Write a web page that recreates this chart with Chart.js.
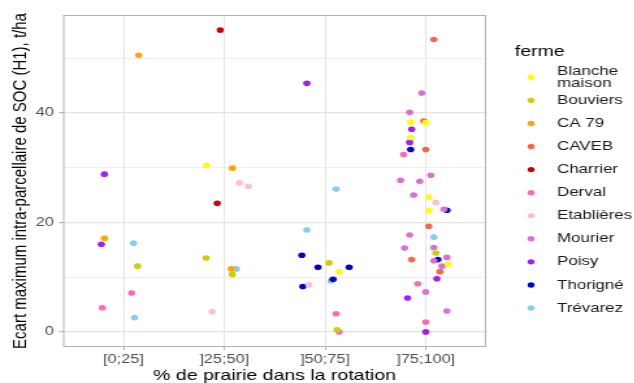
<!DOCTYPE html>
<html>
<head>
<meta charset="utf-8">
<script src="https://cdn.jsdelivr.net/npm/chart.js@4.4.1/dist/chart.umd.min.js"></script>
<style>
    html, body { margin: 0; padding: 0; background: #fff; overflow: hidden; }
    /* the reference picture is stretched sideways, so the canvas is too */
    #wrap { width: 488px; height: 383px; transform: scaleX(1.3); transform-origin: 0 0; }
</style>
</head>
<body>
<div id="wrap"><canvas id="soc_chart" width="488" height="383"></canvas></div>
<script>
const categories = ["[0;25]", "]25;50]", "]50;75]", "]75;100]"];
const yTicks = [0, 10, 20, 30, 40, 50];
const yLabelled = [0, 20, 40];

const farms = ["Blanche maison", "Bouviers", "CA 79", "CAVEB", "Charrier", "Derval",
    "Etablières", "Mourier", "Poisy", "Thorigné", "Trévarez"];
const farmColors = ["#FFFF00", "#CDCD00", "#FFA500", "#FF6347", "#CD0000", "#FF69B4",
    "#FFC0CB", "#DA70D6", "#A020F0", "#0000CD", "#87CEEB"];

// [x, y] : x = class of the rotation (1..4) plus jitter, y = t/ha
const blancheMaison = [[1.82, 30.4], [3.14, 11.0], [3.85, 38.3], [4.00, 38.2], [3.85, 35.5], [4.03, 24.6], [4.03, 22.2], [4.22, 12.4]];
const bouviers = [[1.14, 12.0], [1.82, 13.5], [2.08, 10.5], [3.04, 12.6], [3.12, 0.4], [4.10, 14.4]];
const ca79 = [[1.15, 50.5], [0.81, 17.1], [2.08, 29.9], [2.07, 11.5]];
const caveb = [[4.08, 53.4], [3.98, 38.5], [4.00, 33.3], [4.03, 19.3], [3.86, 13.2], [4.14, 11.0]];
const charrier = [[1.96, 55.1], [1.93, 23.5]];
const derval = [[1.08, 7.1], [0.79, 4.4], [3.11, 3.3], [3.14, 0.0], [3.78, 32.4], [3.92, 8.8], [4.00, 1.8]];
const etablieres = [[2.15, 27.2], [2.24, 26.6], [1.88, 3.7], [2.84, 8.6], [4.10, 23.6]];
const mourier = [[3.96, 43.6], [3.84, 40.1], [4.05, 28.6], [3.75, 27.7], [3.94, 27.5], [3.88, 25.0], [4.18, 22.4], [3.84, 17.7],
    [3.79, 15.3], [4.08, 15.4], [4.21, 13.6], [4.08, 13.0], [4.16, 12.0], [4.00, 7.3], [4.21, 3.8]];
const poisy = [[0.81, 28.8], [0.78, 16.0], [2.82, 45.4], [3.86, 37.0], [3.84, 34.6], [4.11, 9.7], [3.82, 6.2], [4.00, 0.0]];
const thorigne = [[2.77, 14.0], [2.93, 11.8], [3.24, 11.8], [3.08, 9.6], [2.78, 8.3], [3.85, 33.3], [4.21, 22.2], [4.12, 13.2]];
const trevarez = [[1.10, 16.2], [1.11, 2.6], [2.12, 11.5], [3.11, 26.1], [2.82, 18.6], [3.06, 9.3], [4.08, 17.3]];

const farmPoints = [blancheMaison, bouviers, ca79, caveb, charrier, derval, etablieres, mourier, poisy, thorigne, trevarez];

const FONT = "'Liberation Sans', Arial, sans-serif";

// grey frame round the panel (ggplot theme_light)
const panelBorder = {
    id: "panelBorder",
    afterDatasetsDraw(chart) {
        const { left, top, right, bottom } = chart.chartArea;
        const ctx = chart.ctx;
        ctx.save();
        ctx.strokeStyle = "#B3B3B3";
        ctx.lineWidth = 1;
        ctx.strokeRect(left + 0.5, top + 0.5, right - left - 1, bottom - top - 1);
        ctx.restore();
    },
};

// legend "ferme" on the right, drawn by hand to get the two line label
const fermeLegend = {
    id: "fermeLegend",
    afterDraw(chart) {
        const ctx = chart.ctx;
        ctx.save();
        ctx.textBaseline = "middle";
        ctx.fillStyle = "#000";
        ctx.font = "15px " + FONT;
        ctx.fillText("ferme", 396, 52);
        ctx.font = "13px " + FONT;
        chart.data.datasets.forEach((ds, i) => {
            const y = 77.3 + i * 23.07;
            ctx.fillStyle = ds.backgroundColor;
            ctx.beginPath();
            ctx.arc(408.5, y, 2.7, 0, Math.PI * 2);
            ctx.fill();
            ctx.fillStyle = "#1A1A1A";
            const words = ds.label === "Blanche maison" ? ["Blanche", "maison"] : [ds.label];
            words.forEach((w, k) => {
                ctx.fillText(w, 428.5, y + (k - (words.length - 1) / 2) * 11.5);
            });
        });
        ctx.restore();
    },
};

new Chart(document.getElementById("soc_chart"), {
    type: "scatter",
    data: {
        datasets: farms.map((name, i) => ({
            label: name,
            data: farmPoints[i].map((p) => ({ x: p[0], y: p[1] })),
            backgroundColor: farmColors[i],
            borderWidth: 0,
            pointRadius: 2.8,
            pointHoverRadius: 2.8,
        })),
    },
    options: {
        responsive: false,
        animation: false,
        devicePixelRatio: 1,
        layout: { padding: { top: 15, right: 114, left: 0, bottom: 0 } },
        plugins: {
            legend: { display: false },
            tooltip: { enabled: false },
        },
        scales: {
            x: {
                type: "linear",
                min: 0.4,
                max: 4.6,
                afterBuildTicks: (s) => {
                    s.ticks = categories.map((c, i) => ({ value: i + 1 }));
                },
                afterFit: (s) => {
                    s.height = 36;
                },
                ticks: {
                    callback: (v) => categories[v - 1],
                    color: "#4D4D4D",
                    font: { family: FONT, size: 12.5 },
                    padding: 2,
                    maxRotation: 0,
                },
                grid: {
                    color: "#E3E3E3",
                    lineWidth: 1,
                    tickLength: 3,
                    tickColor: "#B3B3B3",
                },
                border: { display: false },
                title: {
                    display: true,
                    text: "% de prairie dans la rotation",
                    color: "#000",
                    font: { family: FONT, size: 15, lineHeight: 1 },
                    padding: { top: 0, bottom: 0 },
                },
            },
            y: {
                min: -2.76,
                max: 57.86,
                afterBuildTicks: (s) => {
                    s.ticks = yTicks.map((v) => ({ value: v }));
                },
                afterFit: (s) => {
                    s.width = 48.5;
                },
                ticks: {
                    callback: (v) => (yLabelled.includes(v) ? String(v) : ""),
                    color: "#4D4D4D",
                    font: { family: FONT, size: 12.5 },
                    padding: 4,
                },
                grid: {
                    color: (c) => (yLabelled.includes(c.tick.value) ? "#E3E3E3" : "#EBEBEB"),
                    lineWidth: (c) => (yLabelled.includes(c.tick.value) ? 1.2 : 0.8),
                    tickLength: 3,
                    tickColor: (c) => (yLabelled.includes(c.tick.value) ? "#B3B3B3" : "rgba(0,0,0,0)"),
                },
                border: { display: false },
                title: {
                    display: true,
                    text: "Ecart maximum intra-parcellaire de SOC (H1), t/ha",
                    color: "#000",
                    font: { family: FONT, size: 15, lineHeight: 1.2 },
                    padding: { top: 6.4, bottom: 0 },
                },
            },
        },
    },
    plugins: [panelBorder, fermeLegend],
});
</script>
</body>
</html>
